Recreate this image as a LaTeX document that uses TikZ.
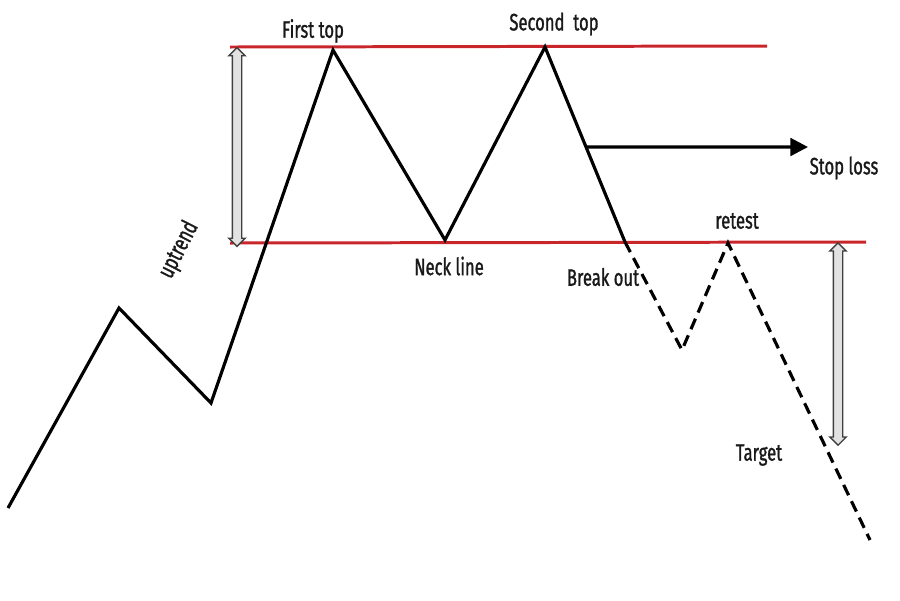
\documentclass[tikz,border=0pt]{standalone}
\usepackage{fontspec}
\setmainfont{Fira Sans}[FakeStretch=0.7, FakeBold=1.2]
\usepackage{xcolor}
\usepackage{tikz}
\usetikzlibrary{arrows.meta, shapes.arrows, calc}
\definecolor{lvred}{HTML}{C8262B}
\definecolor{rangegray}{HTML}{E2E2E2}

\begin{document}
\begin{tikzpicture}[x=0.02cm, y=-0.02cm]
\useasboundingbox (0,0) rectangle (900,600);
\tikzset{
  price/.style={black, line width=1.8pt, line join=miter},
  level/.style={lvred, line width=1.7pt},
  rangearrow/.style={double arrow, draw=black!75, fill=rangegray, line width=0.8pt,
    inner sep=0.08cm, double arrow head extend=0.07cm, rotate=90},
  tag/.style={font=\fontsize{13.5}{15}\selectfont, text=black!90}
}
% resistance and neck line
\coordinate (topL) at (230,47);
\coordinate (topR) at (767,46);
\coordinate (neckL) at (230,243);
\coordinate (neckR) at (866,242);
\draw[level] (topL) -- (topR);
\draw[level] (neckL) -- (neckR);
% price path
\coordinate (p0) at (8,508);
\coordinate (p1) at (119,308);
\coordinate (p2) at (211,403);
\coordinate (top1) at (333,50);
\coordinate (neck) at (445,240);
\coordinate (top2) at (545,47);
\coordinate (brk) at (625,242);
\coordinate (dip) at (682,350);
\coordinate (rt) at (728,243);
\coordinate (tgt) at (870,540);
\draw[price] (p0) -- (p1) -- (p2) -- (top1) -- (neck) -- (top2) -- (brk);
\draw[price, dash pattern=on 6.5pt off 3.8pt] (brk) -- (dip) -- (rt) -- (tgt);
% stop loss
\coordinate (slA) at ($(top2)!0.513!(brk)$);
\coordinate (slB) at (808,147);
\draw[black, line width=1.8pt, -{Triangle[length=10pt, width=10pt]}] (slA) -- (slB);
% range arrows
\node[rangearrow, minimum height=3.98cm] (hgt) at (237,147) {};
\node[rangearrow, minimum height=4.05cm] (proj) at (838,344) {};
% labels
\node[tag] (lfirst) at (313,31) {First top};
\node[tag] (lsecond) at (554,24) {Second\ \ top};
\node[tag] (lstop) at (844,168) {Stop loss};
\node[tag] (lretest) at (737,221) {retest};
\node[tag] (lneck) at (449,266) {Neck line};
\node[tag] (lbreak) at (603,277) {Break out};
\node[tag] (ltarget) at (759,455) {Target};
\node[tag, rotate=63] (lup) at (179,250) {uptrend};
\end{tikzpicture}
\end{document}
